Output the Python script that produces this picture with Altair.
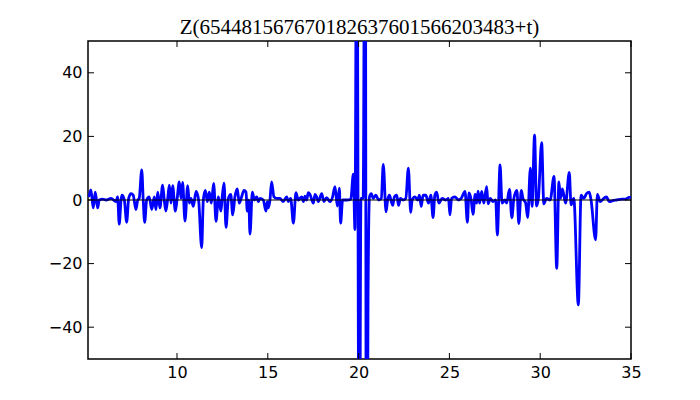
import altair as alt
import pandas as pd

t_vals = [
    5.12, 5.17, 5.26, 5.39, 5.50, 5.63, 5.72, 5.91, 6.09, 6.37, 6.64, 6.73, 6.82, 6.92, 6.97,
    7.10, 7.23, 7.34, 7.47, 7.59, 7.74, 7.84, 7.92, 8.06, 8.14, 8.22, 8.33, 8.47, 8.61, 8.75,
    8.84, 8.94, 9.06, 9.21, 9.30, 9.39, 9.49, 9.58, 9.67, 9.76, 9.91, 10.00, 10.13, 10.22, 10.31,
    10.44, 10.59, 10.68, 10.77, 10.90, 11.05, 11.19, 11.36, 11.45, 11.56, 11.67, 11.78, 11.89, 12.02, 12.15,
    12.28, 12.42, 12.50, 12.59, 12.70, 12.83, 12.96, 13.07, 13.19, 13.32, 13.43, 13.56, 13.69, 13.80, 13.87,
    13.95, 14.02, 14.15, 14.26, 14.39, 14.48, 14.57, 14.75, 14.90, 14.97, 15.03, 15.12, 15.21, 15.34, 15.49,
    15.67, 15.85, 16.04, 16.13, 16.26, 16.41, 16.55, 16.68, 16.87, 16.96, 17.05, 17.14, 17.23, 17.32, 17.51,
    17.60, 17.69, 17.78, 17.97, 18.09, 18.24, 18.43, 18.57, 18.70, 18.83, 18.94, 19.01, 19.12, 19.35, 19.57,
    19.71, 19.80, 19.90, 20.04, 20.13, 20.25, 20.36, 20.44, 20.52, 20.60, 20.70, 20.80, 20.95, 21.10, 21.25,
    21.36, 21.51, 21.60, 21.70, 21.80, 21.88, 21.97, 22.10, 22.20, 22.30, 22.45, 22.60, 22.74, 22.87, 22.95,
    23.10, 23.25, 23.35, 23.45, 23.55, 23.70, 23.85, 23.98, 24.10, 24.20, 24.30, 24.42, 24.60, 24.80, 24.95,
    25.03, 25.12, 25.30, 25.50, 25.65, 25.86, 25.99, 26.08, 26.20, 26.30, 26.42, 26.50, 26.58, 26.66, 26.78,
    26.90, 27.05, 27.13, 27.25, 27.40, 27.55, 27.64, 27.79, 27.90, 28.05, 28.15, 28.31, 28.44, 28.55, 28.72,
    28.82, 28.96, 29.05, 29.20, 29.31, 29.46, 29.55, 29.69, 29.80, 29.90, 30.08, 30.20, 30.35, 30.55, 30.76,
    30.91, 31.03, 31.12, 31.22, 31.40, 31.60, 31.70, 31.85, 32.10, 32.25, 32.40, 32.55, 32.70, 32.80, 33.05,
    33.15, 33.30, 33.50, 33.65, 33.80, 34.00, 34.20, 34.50, 34.70, 34.90, 35.00,
]
z_vals = [
    1.0, 1.5, 3.2, -2.5, 2.5, -2.5, 0.0, 0.3, 0.0, 0.5, -0.5, 1.0, -7.6, 0.0, 1.5,
    0.0, -7.0, 0.5, 2.0, 1.5, -3.0, 0.0, 0.5, 9.5, 0.0, -7.0, 0.0, 1.0, -3.0, 1.0,
    -3.0, 2.5, -2.5, 4.7, 0.0, -3.5, 0.5, 4.7, -1.0, 4.5, -3.5, 0.0, 5.7, 0.5, 5.5,
    -6.6, 4.5, -1.0, 0.5, -2.0, 2.7, 0.0, -15.0, 0.0, 3.0, -0.5, 2.5, -1.0, 5.2, -6.7,
    1.0, -3.5, 1.5, 5.3, -8.6, 0.5, 1.8, -4.7, 1.0, 3.5, -1.0, 1.0, 3.0, 2.5, -3.5,
    0.0, -10.7, 2.5, 0.0, 1.0, -0.5, 0.5, 0.0, -3.5, -0.5, -2.5, 0.0, 5.7, 1.0, 0.5,
    0.5, -0.5, 1.0, -0.5, 0.5, -7.3, 2.3, 0.0, 1.0, -0.5, 1.2, 0.0, 2.3, 1.8, -1.0,
    1.8, 1.0, -0.5, 2.0, -0.5, 0.7, -0.5, 1.0, 4.2, -1.9, 3.7, -7.3, 0.0, 0.0, 0.2,
    8.1, -9.3, 110.0, -120.0, 0.5, 0.5, 130.0, -150.0, -31.0, 1.0, 2.0, 0.5, 1.5, 0.0, 0.5,
    11.2, -3.7, 0.0, 1.5, -0.5, -1.7, 1.0, 1.5, -1.7, 0.5, 0.0, 0.5, 10.0, -3.9, 0.0,
    1.0, 0.0, 1.5, -2.0, 1.5, 1.5, -1.0, 1.5, -5.5, 1.5, 2.5, -1.0, 0.5, 0.0, 0.5,
    -4.7, 0.5, 1.0, 0.0, 0.5, 2.7, -7.0, 2.2, 0.0, -4.5, 1.8, -1.0, 2.8, -1.0, 2.7,
    -1.0, 4.2, -1.2, 0.5, -0.5, 0.0, -11.0, 11.0, -1.0, 0.0, -1.0, 3.3, -5.6, 0.5, 3.0,
    -7.4, 3.0, 0.5, -1.0, -5.5, 10.0, -2.0, 20.4, -1.9, 0.5, 18.0, -1.2, 0.5, 0.0, 7.4,
    -21.5, 5.7, 0.5, 3.5, -1.0, 8.7, -1.5, 0.5, -33.0, 1.5, 0.5, 2.0, 2.5, 0.0, -12.5,
    1.8, -0.5, 0.5, 1.0, -0.5, -0.2, 0.0, 0.3, 0.3, 0.8, 0.8,
]
x_ticks = [10, 15, 20, 25, 30, 35]
y_ticks = [-40, -20, 0, 20, 40]
title_text = "Z(654481567670182637601566203483+t)"

W, H = 543, 318
TL = 6

df = pd.DataFrame({"t": t_vals, "z": z_vals})
xt = pd.DataFrame({"t": x_ticks})
yt = pd.DataFrame({"z": y_ticks})
zero = pd.DataFrame({"z": [0]})

xs = alt.Scale(domain=[5.1, 35], nice=False, zero=False)
ys = alt.Scale(domain=[-50, 50], nice=False, zero=False)
xax = alt.Axis(values=x_ticks, grid=False, domain=False, ticks=False,
               labelFont="DejaVu Sans", labelFontSize=16, labelColor="black",
               labelPadding=5, labelFlush=False)
yax = alt.Axis(values=y_ticks, grid=False, domain=False, ticks=False,
               labelFont="DejaVu Sans", labelFontSize=16, labelColor="black",
               labelPadding=6)

X = alt.X("t:Q", scale=xs, title=None, axis=xax)
Y = alt.Y("z:Q", scale=ys, title=None, axis=yax)

line = alt.Chart(df).mark_line(
    color="#0000ff", strokeWidth=2.8, clip=True, interpolate="monotone"
).encode(x=X, y=Y)

zero_line = alt.Chart(zero).mark_rule(color="black", strokeWidth=1).encode(y=Y)

bottom_ticks = alt.Chart(xt).mark_rule(color="black", strokeWidth=1).encode(
    x=X, y=alt.value(H), y2=alt.value(H - TL)
)
top_ticks = alt.Chart(xt).mark_rule(color="black", strokeWidth=1).encode(
    x=X, y=alt.value(0), y2=alt.value(TL)
)
left_ticks = alt.Chart(yt).mark_rule(color="black", strokeWidth=1).encode(
    y=Y, x=alt.value(0), x2=alt.value(TL)
)
right_ticks = alt.Chart(yt).mark_rule(color="black", strokeWidth=1).encode(
    y=Y, x=alt.value(W), x2=alt.value(W - TL)
)

chart = alt.layer(
    line, zero_line, bottom_ticks, top_ticks, left_ticks, right_ticks
).properties(
    width=W,
    height=H,
    title=alt.TitleParams(title_text, font="Liberation Serif", fontSize=21,
                          fontWeight="normal", color="black", anchor="middle", offset=3),
    autosize=alt.AutoSizeParams(type="none"),
    padding={"left": 80, "top": 33, "right": 50, "bottom": 25},
).configure(
    background="white"
).configure_view(
    stroke="black", strokeWidth=1.5
)

chart.save("out.html", embed_options={"renderer": "svg", "actions": False})
